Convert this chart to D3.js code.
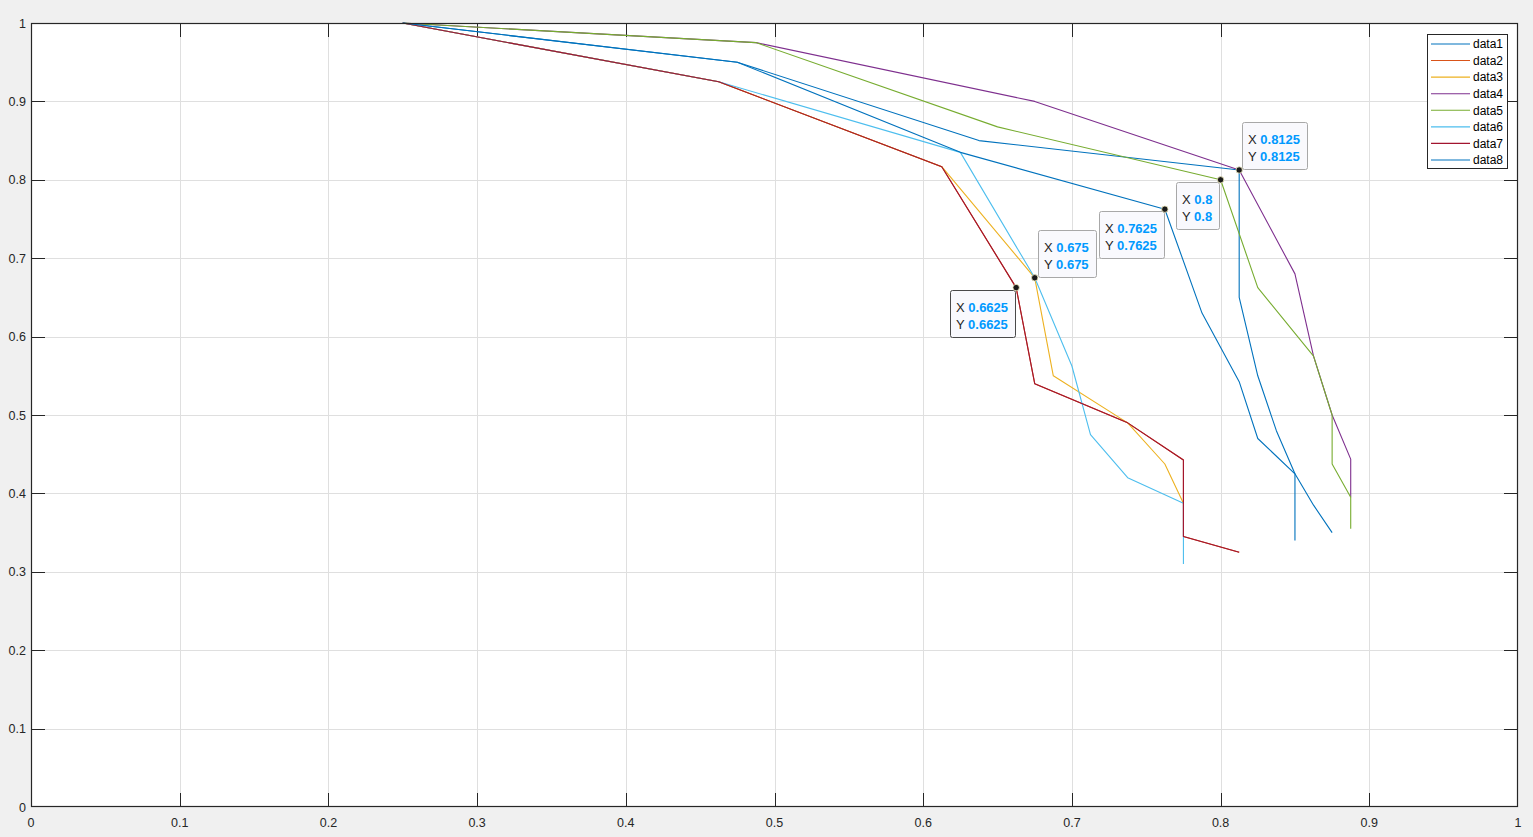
<!DOCTYPE html>
<html>
<head>
<meta charset="utf-8">
<script src="https://cdn.jsdelivr.net/npm/d3@7"></script>
<style>
html,body{margin:0;padding:0;background:#f0f0f0;}
svg{display:block;}
text{font-family:"Liberation Sans",Arial,Helvetica,sans-serif;}
</style>
</head>
<body>
<svg id="chart" width="1533" height="837"></svg>
<script>
// ---------- data ----------
const seriesNames = ["data1","data2","data3","data4","data5","data6","data7","data8"];
const xTicks = [0,0.1,0.2,0.3,0.4,0.5,0.6,0.7,0.8,0.9,1];
const yTicks = [0,0.1,0.2,0.3,0.4,0.5,0.6,0.7,0.8,0.9,1];
const xTickLabels = ["0","0.1","0.2","0.3","0.4","0.5","0.6","0.7","0.8","0.9","1"];
const yTickLabels = ["0","0.1","0.2","0.3","0.4","0.5","0.6","0.7","0.8","0.9","1"];

const data1X = [0.25,0.475,0.6375,0.8125,0.8125,0.825,0.8375,0.85,0.85];
const data1Y = [1,0.95,0.85,0.8125,0.65,0.55,0.48,0.425,0.34];
const data2X = [0.25,0.4625,0.6125,0.6625,0.675,0.7375,0.775,0.775,0.8125];
const data2Y = [1,0.925,0.8167,0.6625,0.54,0.49,0.4425,0.345,0.325];
const data3X = [0.25,0.4625,0.6125,0.675,0.6875,0.7375,0.7625,0.775];
const data3Y = [1,0.925,0.8167,0.675,0.55,0.49,0.4375,0.3875];
const data4X = [0.25,0.4875,0.675,0.8125,0.85,0.8625,0.875,0.8875,0.8875];
const data4Y = [1,0.975,0.9,0.8125,0.68,0.575,0.5,0.4437,0.395];
const data5X = [0.25,0.4875,0.65,0.8,0.825,0.8625,0.875,0.875,0.8875,0.8875];
const data5Y = [1,0.975,0.8675,0.8,0.6625,0.575,0.5,0.4375,0.395,0.355];
const data6X = [0.25,0.4625,0.625,0.675,0.7,0.7125,0.7375,0.775,0.775];
const data6Y = [1,0.925,0.835,0.675,0.5625,0.475,0.42,0.3875,0.31];
const data7X = [0.25,0.4625,0.6125,0.6625,0.675,0.7375,0.775,0.775,0.8125];
const data7Y = [1,0.925,0.8167,0.6625,0.54,0.49,0.4425,0.345,0.325];
const data8X = [0.25,0.475,0.625,0.7625,0.7875,0.8125,0.825,0.85,0.8625,0.875];
const data8Y = [1,0.95,0.835,0.7625,0.63,0.5425,0.47,0.425,0.385,0.35];

const datatipX = [0.8125,0.8,0.7625,0.675,0.6625];
const datatipY = [0.8125,0.8,0.7625,0.675,0.6625];

// ---------- styles ----------
const seriesColors = ["#0072BD","#D95319","#EDB120","#7E2F8E","#77AC30","#4DBEEE","#A2142F","#0072BD"];
// datatip placement: "ur" = box up-right of point, "dl" = box down-left
const datatipPlace = ["ur","dl","dl","ur","dl"];
const datatipSelected = [false,false,false,false,true];

const allX = [data1X,data2X,data3X,data4X,data5X,data6X,data7X,data8X];
const allY = [data1Y,data2Y,data3Y,data4Y,data5Y,data6Y,data7Y,data8Y];

const svg = d3.select("#chart");
const L = 31, R = 1518, T = 23, B = 807;
const x = d3.scaleLinear().domain([0,1]).range([L,R]);
const y = d3.scaleLinear().domain([0,1]).range([B,T]);
const axisColor = "#262626";
const tickLen = 14;

// plot background
svg.append("rect").attr("x",L).attr("y",T).attr("width",R-L).attr("height",B-T).attr("fill","#ffffff");

// grid
const grid = svg.append("g");
grid.selectAll("line.gx").data(xTicks.slice(1,-1)).join("line")
  .attr("x1",d=>Math.round(x(d))+0.5).attr("x2",d=>Math.round(x(d))+0.5)
  .attr("y1",T).attr("y2",B).attr("stroke","#dfdfdf").attr("stroke-width",1);
grid.selectAll("line.gy").data(yTicks.slice(1,-1)).join("line")
  .attr("y1",d=>Math.round(y(d))+0.5).attr("y2",d=>Math.round(y(d))+0.5)
  .attr("x1",L).attr("x2",R).attr("stroke","#dfdfdf").attr("stroke-width",1);

// ticks (inside, all four sides)
const ticks = svg.append("g").attr("stroke",axisColor).attr("stroke-width",1);
xTicks.slice(1,-1).forEach(d=>{
  const px = Math.round(x(d))+0.5;
  ticks.append("line").attr("x1",px).attr("x2",px).attr("y1",B).attr("y2",B-tickLen);
  ticks.append("line").attr("x1",px).attr("x2",px).attr("y1",T).attr("y2",T+tickLen);
});
yTicks.slice(1,-1).forEach(d=>{
  const py = Math.round(y(d))+0.5;
  ticks.append("line").attr("y1",py).attr("y2",py).attr("x1",L).attr("x2",L+tickLen);
  ticks.append("line").attr("y1",py).attr("y2",py).attr("x1",R).attr("x2",R-tickLen);
});

// tick labels
const lab = svg.append("g").attr("fill",axisColor).attr("font-size","12.5px");
xTicks.forEach((d,i)=>{
  lab.append("text").attr("x",x(d)).attr("y",827).attr("text-anchor","middle").text(xTickLabels[i]);
});
yTicks.forEach((d,i)=>{
  lab.append("text").attr("x",26).attr("y",y(d)+4.5).attr("text-anchor","end").text(yTickLabels[i]);
});

// lines
const lineGen = d3.line().x(d=>x(d[0])).y(d=>y(d[1]));
const linesG = svg.append("g").attr("fill","none").attr("stroke-width",1.1).attr("stroke-linejoin","round");
allX.forEach((xs,i)=>{
  const pts = xs.map((v,j)=>[v, allY[i][j]]);
  linesG.append("path").attr("d",lineGen(pts)).attr("stroke",seriesColors[i]);
});

// axes box
svg.append("rect").attr("x",L+0.5).attr("y",T+0.5).attr("width",R-L-1).attr("height",B-T-1)
  .attr("fill","none").attr("stroke",axisColor).attr("stroke-width",1.2);

// legend
const lg = svg.append("g");
const lgX = 1427, lgY = 34, lgW = 80, lgH = 134;
lg.append("rect").attr("x",lgX+0.5).attr("y",lgY+0.5).attr("width",lgW).attr("height",lgH)
  .attr("fill","#ffffff").attr("stroke",axisColor).attr("stroke-width",1);
seriesNames.forEach((n,i)=>{
  const ry = 44 + i*16.57;
  lg.append("line").attr("x1",1431).attr("x2",1470).attr("y1",ry).attr("y2",ry)
    .attr("stroke",seriesColors[i]).attr("stroke-width",1.1);
  lg.append("text").attr("x",1473).attr("y",ry+4.3).attr("font-size","12px").attr("fill","#000").text(n);
});

// datatips
const tipG = svg.append("g");
datatipX.forEach((dx,i)=>{
  const dy = datatipY[i];
  const px = x(dx), py = y(dy);
  const g = tipG.append("g");
  const rect = g.append("rect");
  const t1 = g.append("text").attr("font-size","13px");
  t1.append("tspan").attr("fill","#262626").text("X ");
  t1.append("tspan").attr("fill","#0099ff").attr("font-weight","bold").text(String(dx));
  const t2 = g.append("text").attr("font-size","13px");
  t2.append("tspan").attr("fill","#262626").text("Y ");
  t2.append("tspan").attr("fill","#0099ff").attr("font-weight","bold").text(String(dy));
  const w = Math.max(t1.node().getComputedTextLength(), t2.node().getComputedTextLength()) + 13;
  const h = 47;
  let bx, by;
  if (datatipPlace[i]==="ur"){ bx = px+3; by = py-h-1; }
  else { bx = px-1-w; by = py+2; }
  rect.attr("x",Math.round(bx)+0.5).attr("y",Math.round(by)+0.5).attr("width",Math.round(w)).attr("height",h)
    .attr("rx",2).attr("ry",2).attr("fill","#f9f9fd")
    .attr("stroke",datatipSelected[i] ? "#4a4a4a" : "#a8a8a8").attr("stroke-width",1);
  t1.attr("x",Math.round(bx)+6).attr("y",Math.round(by)+21.5);
  t2.attr("x",Math.round(bx)+6).attr("y",Math.round(by)+38.5);
  tipG.append("circle").attr("cx",px).attr("cy",py).attr("r",3.2)
    .attr("fill","#1a1a1a").attr("stroke","#f3eec0").attr("stroke-width",0.8);
});
</script>
</body>
</html>
